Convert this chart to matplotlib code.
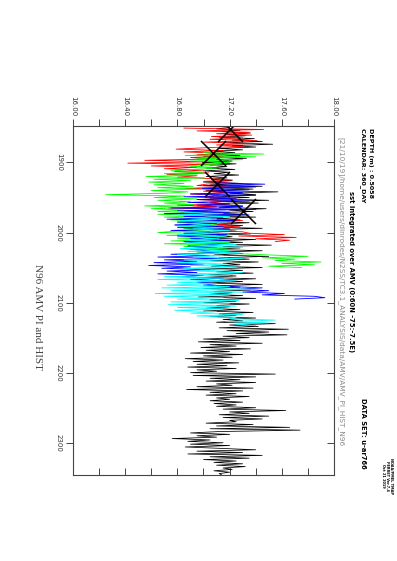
import numpy as np
import matplotlib
matplotlib.use("Agg")
import matplotlib.pyplot as plt
from matplotlib.ticker import MultipleLocator, FormatStrFormatter

# DONNEES ##############################################################################################################
# PI control (noir), pas de 2 ans
pi_years = np.arange(1850, 2347, 2)
pi_sst = [
    17.20, 17.10, 17.28, 17.14, 17.36, 17.18, 17.32, 17.12, 17.39, 17.22,
    17.45, 17.16, 17.53, 17.22, 17.40, 17.12, 17.30, 17.08, 17.24, 17.05,
    17.28, 17.00, 17.33, 17.10, 17.22, 16.99, 17.25, 17.05, 17.18, 17.02,
    17.24, 17.00, 17.20, 17.08, 17.27, 17.02, 17.18, 17.06, 17.22, 17.00,
    17.30, 17.05, 17.45, 17.12, 17.38, 17.02, 17.57, 17.20, 17.40, 17.10,
    17.35, 17.05, 17.50, 17.15, 17.42, 17.08, 17.30, 17.12, 17.48, 17.20,
    17.38, 17.05, 17.32, 17.00, 17.40, 17.10, 17.28, 17.02, 17.35, 17.08,
    17.30, 16.98, 17.45, 17.05, 17.25, 16.95, 17.36, 17.10, 17.22, 17.04,
    17.40, 17.06, 17.30, 17.02, 17.52, 17.15, 17.28, 17.05, 17.45, 17.10,
    17.30, 17.08, 17.50, 17.12, 17.35, 17.05, 17.42, 17.15, 17.28, 17.06,
    17.45, 17.00, 17.30, 17.10, 17.38, 17.04, 17.25, 17.00, 17.40, 17.12,
    17.30, 17.02, 17.45, 17.10, 17.28, 17.00, 17.36, 17.08, 17.22, 17.05,
    17.30, 16.96, 17.40, 17.05, 17.25, 17.00, 17.35, 17.10, 17.20, 17.02,
    17.28, 17.00, 17.38, 17.12, 17.25, 17.05, 17.40, 17.15, 17.30, 17.10,
    17.55, 17.20, 17.42, 17.12, 17.65, 17.18, 17.50, 17.25, 17.64, 17.15,
    17.35, 17.00, 17.28, 16.96, 17.45, 17.05, 17.25, 16.98, 17.36, 17.02,
    17.20, 16.90, 17.30, 17.00, 17.22, 16.86, 17.15, 16.92, 17.27, 16.95,
    17.18, 16.88, 17.25, 16.95, 17.10, 16.90, 17.55, 16.92, 17.40, 17.05,
    17.28, 17.02, 17.40, 17.10, 17.22, 16.95, 17.38, 16.87, 17.30, 17.05,
    17.25, 17.02, 17.35, 17.10, 17.20, 17.05, 17.30, 17.08, 17.25, 17.10,
    17.40, 17.15, 17.63, 17.20, 17.35, 17.12, 17.50, 17.15, 17.45, 17.20,
    17.25, 17.02, 17.38, 17.10, 17.66, 17.05, 17.74, 17.12, 16.90, 17.20,
    16.95, 17.10, 16.76, 17.05, 16.88, 17.15, 16.90, 17.20, 16.86, 17.12,
    17.40, 16.95, 17.30, 16.88, 17.45, 17.05, 17.35, 17.00, 17.25, 17.08,
    17.30, 17.10, 17.32, 17.15, 17.22, 17.08, 17.20, 17.12, 17.14,
]

# HIST membre 1 (rouge)
red_years = np.arange(1851, 2014, 2)
red_sst = [
    16.85, 17.46, 16.95, 17.35,
    17.10, 17.37, 17.06, 17.30,
    17.05, 17.41, 17.00, 17.38, 17.10, 17.30, 17.02,
    16.79, 17.15, 16.85, 17.19, 16.95,
    17.15, 16.90, 17.10,
    16.55, 17.05, 16.42, 17.09, 16.60, 16.95,
    16.70, 17.00, 16.78, 17.04, 16.72, 16.95, 16.80,
    17.05, 17.22, 17.00, 17.18, 17.02,
    16.95, 17.22, 16.86, 17.15, 17.00, 17.20, 16.90, 17.12,
    17.02, 17.25, 16.95, 17.18, 17.05, 17.20,
    16.80, 17.10, 16.73, 17.17, 16.85, 17.05, 16.90, 17.15, 16.95, 17.10,
    17.05, 17.30, 17.00, 17.25, 17.10, 17.28, 17.02, 17.20, 17.08, 17.30,
    17.35, 17.62, 17.27, 17.71, 17.40, 17.66, 17.55,
]

# HIST membre 2 (vert)
green_years = np.arange(1886, 2051, 2)
green_sst = [
    17.00, 17.46, 16.86, 17.40, 16.95, 17.30, 16.90, 17.20,
    16.95, 17.15, 16.90, 17.10, 16.92,
    16.75, 17.00, 16.70,
    16.95, 16.56, 17.01, 16.62, 16.90, 16.58, 16.85,
    16.62, 16.92, 16.65, 16.95, 16.60, 16.88, 16.70,
    16.25, 16.86,
    16.62, 16.95, 16.65, 16.90, 16.70, 16.92,
    16.55, 16.88, 16.60, 16.85, 16.65,
    16.95, 16.65, 17.00, 16.70, 16.98,
    16.75, 17.05, 16.80, 17.10, 16.78, 17.00, 16.85, 17.08, 16.80,
    16.65, 17.20, 16.72, 17.15, 16.80, 17.10,
    16.75, 17.20, 16.70, 17.15, 16.85, 17.18, 16.90,
    17.20, 16.95, 17.25,
    17.50, 17.80, 17.45, 17.70, 17.55, 17.90, 17.60, 17.85, 17.50, 17.75,
]

# HIST membre 3 (bleu)
blue_years = np.arange(1929, 2096, 2)
blue_sst = [
    17.10, 17.47, 17.00, 17.40, 16.99, 17.35, 17.05,
    17.30, 16.90, 17.40, 16.85, 17.25, 16.95, 17.35, 16.88, 17.20, 16.95,
    17.30, 16.75, 17.40, 16.80, 17.20, 16.70, 17.35, 16.85, 17.15, 16.72, 17.25, 16.80, 17.10, 16.78,
    17.15, 16.80, 17.20, 16.75, 17.05, 16.85, 17.18, 16.80, 17.10, 16.90, 17.20, 16.85,
    16.95, 17.15, 16.88, 17.10, 16.85, 17.05, 16.92, 17.12,
    16.75, 17.05, 16.65, 17.16, 16.70, 16.95, 16.62, 17.00, 16.58, 16.90, 16.68, 17.05, 16.72, 16.95,
    16.65, 17.00, 16.80,
    17.15, 16.90, 17.20, 16.95, 17.10, 17.00,
    17.20, 17.45, 17.25, 17.50, 17.30, 17.62, 17.45, 17.85, 17.93, 17.70,
]

# HIST membre 4 (cyan)
cyan_years = np.arange(1971, 2134, 2)
cyan_sst = [
    16.85, 17.15, 16.80, 17.20, 16.90, 17.10, 16.82, 17.18, 16.88, 17.05, 16.80,
    17.15, 16.92, 17.20, 16.85, 17.10, 16.80, 17.18, 16.90, 17.12, 16.86, 17.20,
    16.85, 17.25, 16.90, 17.30, 16.82, 17.20, 16.88, 17.28, 16.80, 17.15, 16.92, 17.30,
    16.85, 17.22, 16.80, 17.18, 16.90, 17.25, 16.85, 17.20, 16.95, 17.30, 16.88,
    17.20, 16.70, 17.15, 16.65, 17.25, 16.80, 17.10, 16.72, 17.20,
    16.68, 17.40, 16.75, 17.30, 16.63, 17.20, 16.70, 17.15, 16.80,
    17.27, 16.75, 17.20, 16.73, 17.25, 16.80, 17.15, 16.78, 17.10,
    16.90, 17.30, 16.95, 17.25,
    17.20, 17.55, 17.17, 17.50, 17.25, 17.40,
]

# Croix
cross_years = [1852, 1886, 1931, 1970]
cross_sst = [17.20, 17.07, 17.10, 17.30]

series = [
    (pi_years, pi_sst, "black", 0.55),
    (red_years, red_sst, "red", 0.6),
    (green_years, green_sst, "#00ff00", 0.6),
    (blue_years, blue_sst, "blue", 0.6),
    (cyan_years, cyan_sst, "cyan", 0.6),
]

# FIGURE ###############################################################################################################
W, H = 397, 561
fig = plt.figure(figsize=(W / 100, H / 100), dpi=100)
ax = fig.add_axes([73 / W, 1 - 475 / H, (334 - 73) / W, (475 - 126) / H])

for yrs, vals, col, lw in series:
    ax.plot(vals, yrs, color=col, lw=lw)
ax.plot(cross_sst, cross_years, ls="none", marker="x", ms=18, mew=1.1, color="black")

ax.set_xlim(16, 18)
ax.set_ylim(2346, 1848)

axe_col = "#444444"
for s in ax.spines.values():
    s.set_color(axe_col)
    s.set_linewidth(0.8)

# axe des valeurs en haut
ax.xaxis.tick_top()
ax.xaxis.set_major_locator(MultipleLocator(0.4))
ax.xaxis.set_minor_locator(MultipleLocator(0.2))
ax.xaxis.set_major_formatter(FormatStrFormatter("%.2f"))
ax.tick_params(axis="x", which="both", direction="out", length=5, width=0.7, color=axe_col,
               labelsize=5, labelcolor="#333333", labelrotation=-90, pad=2)

# axe des annees a gauche
ax.set_yticks([1900, 2000, 2100, 2200, 2300])
ax.tick_params(axis="y", direction="out", length=5, width=0.7, color=axe_col,
               labelsize=5, labelcolor="#333333", labelrotation=-90, pad=3)
for lab in ax.get_yticklabels():
    lab.set_va("center")

# ticks internes en bas et a droite
sx = ax.secondary_xaxis("bottom")
sx.set_xticks(np.arange(16, 18.01, 0.2))
sx.tick_params(direction="in", length=5, width=0.7, color=axe_col, labelbottom=False)
sx.spines["bottom"].set_visible(False)
sy = ax.secondary_yaxis("right")
sy.set_yticks([1900, 2000, 2100, 2200, 2300])
sy.tick_params(direction="in", length=5, width=0.7, color=axe_col, labelright=False)
sy.spines["right"].set_visible(False)

# TEXTES ###############################################################################################################
def txt(x, y, s, **kw):
    fig.text(x / W, 1 - y / H, s, rotation=-90, **kw)

txt(37, 317, "N96 AMV PI and HIST", family="Liberation Serif", size=8, color="#444444",
    ha="center", va="center")
txt(371, 128, "DEPTH (m) : 0.5058", size=4.6, weight="bold", color="black", ha="center", va="top")
txt(363, 128, "CALENDAR: 360_DAY", size=4.6, weight="bold", color="black", ha="center", va="top")
txt(351, 272, "sst integrated over AMV (0:60N -75:-7.5E)", size=4.9, weight="bold", color="black",
    ha="center", va="center")
txt(341, 137, "[21/10/19]/home/users/dinrodes/N2SS/TC3.1_ANALYSIS/data/AMV/AMV_PI_HIST_N96",
    size=5.3, color="#888888", ha="center", va="top")
txt(363, 398, "DATA SET: u-ar766", size=4.9, weight="bold", color="black", ha="center", va="top")
txt(387, 458, "NOAA/PMEL TMAP\nFERRET Ver.7.4\nOct 21 2019", size=2.5, color="black",
    weight="bold", ha="center", va="top", linespacing=1.0)

fig.savefig("out.png", dpi=100)
